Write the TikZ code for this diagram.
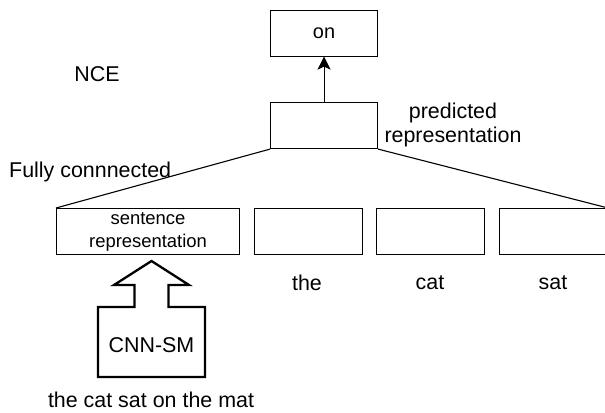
\documentclass[tikz,border=0pt]{standalone}
\usepackage{fontspec}
\setmainfont{Liberation Sans}
\usetikzlibrary{arrows.meta}
\begin{document}
\begin{tikzpicture}[x=1bp,y=-1bp,
  box/.style={draw,line width=1.1bp,minimum height=46bp,inner sep=0pt,anchor=north west,align=center},
  wbox/.style={box,minimum width=108bp},
  lbl/.style={font=\fontsize{21.5}{25}\selectfont,inner sep=0pt,align=center},
  small/.style={font=\fontsize{18.5}{23}\selectfont,inner sep=0pt,align=center},
  conn/.style={line width=1.1bp},
  fat/.style={line width=2.3bp,line join=miter}]
\useasboundingbox (0,0) rectangle (605,412);
\clip (0,0) rectangle (605,412);

% output word and predicted representation
\node[wbox,minimum width=107bp,font=\fontsize{20}{24}\selectfont] (on) at (270,9.5) {on};
\node[wbox,minimum width=107bp] (pred) at (270,102) {};
\draw[conn,-{Stealth[length=13bp,width=13bp,inset=3bp]}] (pred.north) -- (on.south);

\node[lbl] (nce) at (97,74) {NCE};
\node[lbl] (predlbl) at (453,125) {predicted\\representation};
\node[lbl,anchor=west] (fc) at (9,172) {Fully connnected};

% context representations
\node[box,minimum width=183bp,small] (sent) at (56,208) {sentence\\representation};
\node[wbox] (w1) at (254,208) {};
\node[wbox] (w2) at (376,208) {};
\node[wbox] (w3) at (499,208) {};

\node[lbl] (t1) at (307,283) {the};
\node[lbl] (t2) at (430,283) {cat};
\node[lbl] (t3) at (553,283) {sat};

% fully connected layer
\draw[conn] (pred.south west) -- (sent.north west);
\draw[conn] (pred.south east) -- (w3.north east);

% sentence model as a block arrow
\coordinate (tip) at (151.5,261);
\draw[fat] (tip) -- (189,285) -- (168.5,285) -- (168.5,307) -- (205,307)
  -- (205,377) -- (98,377) -- (98,307) -- (134.5,307) -- (134.5,285)
  -- (114,285) -- cycle;
\node[lbl] (cnn) at (151.5,345) {CNN-SM};
\node[lbl] (sentence) at (151,400) {the cat sat on the mat};
\end{tikzpicture}
\end{document}
